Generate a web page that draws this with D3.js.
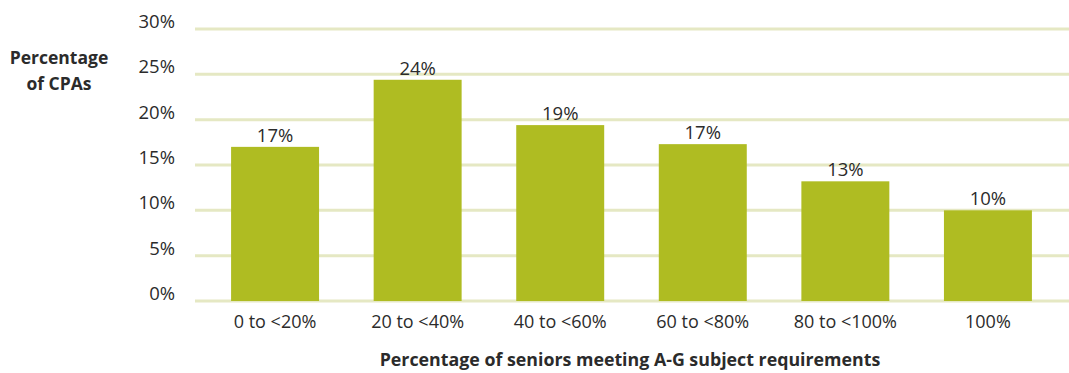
<!DOCTYPE html>
<html>
<head>
<meta charset="utf-8">
<script src="https://cdn.jsdelivr.net/npm/d3@7"></script>
<style>
  body { margin: 0; background: #fff; }
  svg text { font-family: "Open Sans", "Noto Sans", sans-serif; fill: #2b2b2b; }
</style>
</head>
<body>
<svg id="chart" width="1069" height="373"></svg>
<script>
// Share of CPAs by percentage of seniors meeting A-G requirements
const categories = ["0 to <20%", "20 to <40%", "40 to <60%", "60 to <80%", "80 to <100%", "100%"];
const values = [17.0, 24.4, 19.4, 17.3, 13.2, 10.0];
const yTicks = [0, 5, 10, 15, 20, 25, 30];

const svg = d3.select("#chart");

const y = d3.scaleLinear().domain([0, 30]).range([301, 29]);
const x = d3.scaleBand()
  .domain(categories)
  .range([204, 1059])
  .paddingInner(0.383)
  .paddingOuter(0.19);

// Gridlines
svg.append("g")
  .selectAll("line")
  .data(yTicks)
  .join("line")
  .attr("x1", 195)
  .attr("x2", 1069)
  .attr("y1", d => y(d))
  .attr("y2", d => y(d))
  .attr("stroke", "#e5e8c3")
  .attr("stroke-width", 3);

// Y tick labels, sitting just above their gridline
svg.append("g")
  .selectAll("text")
  .data(yTicks)
  .join("text")
  .attr("x", 175)
  .attr("y", d => y(d) - 1)
  .attr("text-anchor", "end")
  .attr("font-size", 18.5)
  .text(d => d + "%");

// Bars
svg.append("g")
  .selectAll("rect")
  .data(values)
  .join("rect")
  .attr("x", (d, i) => x(categories[i]))
  .attr("width", x.bandwidth())
  .attr("y", d => y(d))
  .attr("height", d => y(0) - y(d))
  .attr("fill", "#afbc22");

// Value labels
svg.append("g")
  .selectAll("text")
  .data(values)
  .join("text")
  .attr("x", (d, i) => x(categories[i]) + x.bandwidth() / 2)
  .attr("y", d => y(d) - 5)
  .attr("text-anchor", "middle")
  .attr("font-size", 18.5)
  .text(d => d3.format(".0f")(d) + "%");

// Category labels
svg.append("g")
  .selectAll("text")
  .data(categories)
  .join("text")
  .attr("x", d => x(d) + x.bandwidth() / 2)
  .attr("y", 328)
  .attr("text-anchor", "middle")
  .attr("font-size", 18)
  .text(d => d);

// Axis titles
svg.append("text")
  .attr("x", 630)
  .attr("y", 366)
  .attr("text-anchor", "middle")
  .attr("font-size", 17.8)
  .attr("font-weight", "bold")
  .text("Percentage of seniors meeting A-G subject requirements");

const yTitle = svg.append("text")
  .attr("text-anchor", "middle")
  .attr("font-size", 17.5)
  .attr("font-weight", "bold");
yTitle.append("tspan").attr("x", 59).attr("y", 64).text("Percentage");
yTitle.append("tspan").attr("x", 59).attr("y", 90).text("of CPAs");
</script>
</body>
</html>
